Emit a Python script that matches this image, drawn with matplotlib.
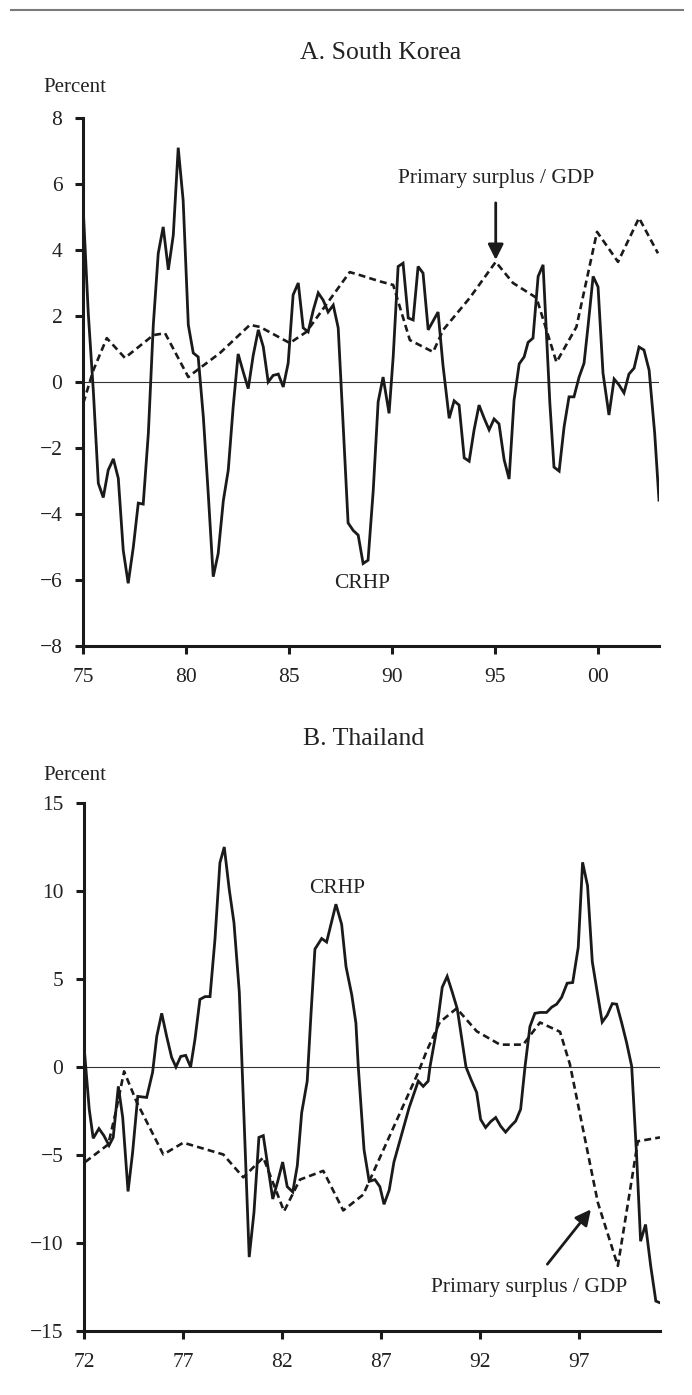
import matplotlib
matplotlib.use("Agg")
import matplotlib.pyplot as plt
from matplotlib.lines import Line2D

plt.rcParams['font.family'] = ['Liberation Serif', 'DejaVu Serif']
plt.rcParams['lines.scale_dashes'] = False

# ---------------- Panel A: South Korea ----------------
kor_crhp_year = [75.00, 75.24, 75.49, 75.73, 75.97, 76.21, 76.46, 76.70, 76.94, 77.18,
                 77.43, 77.67, 77.91, 78.16, 78.40, 78.64, 78.88, 79.13, 79.37, 79.61,
                 79.85, 80.10, 80.34, 80.58, 80.83, 81.07, 81.31, 81.55, 81.80, 82.04,
                 82.28, 82.52, 82.77, 83.01, 83.25, 83.50, 83.74, 83.98, 84.22, 84.47,
                 84.71, 84.95, 85.19, 85.44, 85.68, 85.92, 86.17, 86.41, 86.65, 86.89,
                 87.14, 87.38, 87.62, 87.86, 88.11, 88.35, 88.59, 88.83, 89.08, 89.32,
                 89.56, 89.85, 90.05, 90.29, 90.53, 90.78, 91.02, 91.26, 91.50, 91.75,
                 91.99, 92.23, 92.47, 92.77, 93.01, 93.25, 93.50, 93.74, 93.98, 94.22,
                 94.47, 94.71, 94.95, 95.19, 95.44, 95.68, 95.92, 96.17, 96.41, 96.60,
                 96.84, 97.09, 97.33, 97.66, 97.86, 98.11, 98.35, 98.59, 98.83, 99.08,
                 99.32, 99.51, 99.76, 100.00, 100.24, 100.53, 100.78, 101.02, 101.26, 101.50,
                 101.75, 101.99, 102.23, 102.48, 102.75, 102.96]
kor_crhp = [5.2, 2.1, -0.3, -3.07, -3.5, -2.67, -2.33, -2.92, -5.1, -6.1,
            -5.0, -3.67, -3.7, -1.55, 1.73, 3.9, 4.7, 3.4, 4.45, 7.1,
            5.5, 1.73, 0.88, 0.76, -1.06, -3.4, -5.9, -5.2, -3.6, -2.67,
            -0.75, 0.85, 0.3, -0.2, 0.8, 1.58, 1.07, 0.0, 0.2, 0.24,
            -0.15, 0.57, 2.64, 3.0, 1.64, 1.52, 2.18, 2.7, 2.48, 2.12,
            2.33, 1.64, -1.3, -4.27, -4.5, -4.64, -5.5, -5.4, -3.3, -0.6,
            0.15, -0.95, 0.76, 3.5, 3.6, 1.94, 1.88, 3.5, 3.3, 1.58,
            1.85, 2.12, 0.5, -1.1, -0.57, -0.7, -2.3, -2.4, -1.45, -0.7,
            -1.1, -1.45, -1.12, -1.27, -2.36, -2.94, -0.55, 0.55, 0.76, 1.2,
            1.33, 3.2, 3.55, -0.65, -2.58, -2.7, -1.36, -0.45, -0.45, 0.15,
            0.57, 1.67, 3.2, 2.88, 0.27, -1.0, 0.09, -0.09, -0.33, 0.24,
            0.42, 1.06, 0.97, 0.36, -1.55, -3.58]

kor_ps_year = [75.00, 75.49, 76.14, 77.02, 78.40, 78.97, 80.10, 80.34, 81.64, 83.09,
               83.58, 85.03, 85.84, 87.94, 88.43, 89.40, 90.05, 90.86, 91.99, 92.48,
               93.77, 95.03, 95.87, 97.01, 97.98, 98.95, 99.95, 100.97, 101.99, 102.91]
kor_ps = [-0.64, 0.36, 1.33, 0.73, 1.42, 1.48, 0.15, 0.27, 0.88, 1.73,
          1.67, 1.18, 1.52, 3.33, 3.24, 3.05, 2.94, 1.27, 0.91, 1.58,
          2.55, 3.64, 3.0, 2.55, 0.6, 1.67, 4.55, 3.64, 4.97, 3.9]

kor_xticks = [75, 80, 85, 90, 95, 100]
kor_xticklabels = ['75', '80', '85', '90', '95', '00']
kor_yticks = [-8, -6, -4, -2, 0, 2, 4, 6, 8]

# ---------------- Panel B: Thailand ----------------
tha_crhp_year = [72.00, 72.25, 72.45, 72.74, 72.99, 73.25, 73.46, 73.72, 73.94, 74.21,
                 74.44, 74.70, 75.15, 75.45, 75.66, 75.91, 76.16, 76.41, 76.63, 76.87,
                 77.12, 77.37, 77.59, 77.84, 78.10, 78.35, 78.60, 78.85, 79.07, 79.32,
                 79.56, 79.83, 80.17, 80.33, 80.57, 80.82, 81.04, 81.28, 81.52, 81.77,
                 82.02, 82.25, 82.53, 82.76, 82.98, 83.26, 83.45, 83.65, 83.99, 84.24,
                 84.71, 85.00, 85.22, 85.51, 85.72, 85.84, 86.13, 86.39, 86.68, 86.93,
                 87.14, 87.40, 87.64, 88.41, 88.87, 89.12, 89.37, 89.46, 89.80, 90.08,
                 90.33, 90.59, 90.84, 91.28, 91.53, 91.82, 92.02, 92.27, 92.53, 92.78,
                 93.03, 93.28, 93.54, 93.79, 94.04, 94.26, 94.51, 94.76, 95.02, 95.35,
                 95.61, 95.86, 96.11, 96.39, 96.67, 96.95, 97.17, 97.42, 97.66, 97.91,
                 98.16, 98.41, 98.67, 98.89, 99.14, 99.39, 99.65, 99.90, 100.10, 100.35,
                 100.61, 100.87, 101.08]
tha_crhp = [1.0, -2.41, -4.05, -3.5, -3.9, -4.46, -4.0, -1.1, -2.87, -7.07,
            -4.86, -1.67, -1.73, -0.3, 1.74, 3.05, 1.74, 0.55, 0.0, 0.6,
            0.66, 0.0, 1.57, 3.84, 4.0, 4.0, 7.25, 11.6, 12.5, 10.1,
            8.2, 4.25, -6.0, -10.8, -8.27, -4.0, -3.9, -5.7, -7.5, -6.5,
            -5.4, -6.8, -7.1, -5.6, -2.6, -0.8, 3.0, 6.7, 7.3, 7.1,
            9.25, 8.1, 5.7, 4.1, 2.5, 0.0, -4.7, -6.5, -6.4, -6.8,
            -7.8, -7.0, -5.4, -2.3, -0.8, -1.1, -0.8, 0.0, 2.14, 4.53,
            5.15, 4.24, 3.3, 0.0, -0.7, -1.45, -2.98, -3.44, -3.1, -2.87,
            -3.36, -3.7, -3.36, -3.07, -2.4, 0.0, 2.3, 3.05, 3.1, 3.1,
            3.4, 3.57, 3.96, 4.76, 4.8, 6.8, 11.63, 10.3, 5.98, 4.25,
            2.55, 2.94, 3.6, 3.57, 2.53, 1.4, 0.04, -5.07, -9.9, -8.95,
            -11.3, -13.3, -13.4]

tha_ps_year = [72.04, 73.21, 73.60, 74.01, 74.65, 75.99, 77.00, 79.02, 80.03, 81.04,
               82.09, 82.89, 84.07, 85.08, 86.09, 88.87, 89.29, 89.96, 90.81, 91.82,
               93.00, 94.17, 95.02, 96.03, 96.53, 97.94, 98.95, 99.71, 99.96, 101.08]
tha_ps = [-5.4, -4.4, -2.5, -0.25, -2.0, -4.97, -4.3, -4.97, -6.27, -5.14,
          -8.2, -6.4, -5.9, -8.15, -7.25, -0.3, 0.9, 2.55, 3.33, 2.03,
          1.27, 1.27, 2.53, 2.0, 0.15, -7.7, -11.3, -6.0, -4.22, -4.0]

tha_xticks = [72, 77, 82, 87, 92, 97]
tha_xticklabels = ['72', '77', '82', '87', '92', '97']
tha_yticks = [-15, -10, -5, 0, 5, 10, 15]

W, H = 692, 1395
fig = plt.figure(figsize=(W / 100, H / 100), dpi=100)

def style_axes(ax, xlim, ylim, xticks, xticklabels, yticks):
    ax.set_xlim(*xlim)
    ax.set_ylim(*ylim)
    for s in ['top', 'right']:
        ax.spines[s].set_visible(False)
    for s in ['left', 'bottom']:
        ax.spines[s].set_linewidth(2.2)
        ax.spines[s].set_color('#1a1a1a')
        ax.spines[s].set_capstyle('projecting')
    ax.set_xticks(xticks)
    ax.set_xticklabels(xticklabels)
    ax.set_yticks(yticks)
    ax.set_yticklabels(['\u2212' + str(abs(v)) if v < 0 else str(v) for v in yticks])
    ax.tick_params(axis='both', direction='out', length=6, width=2.2,
                   color='#1a1a1a', labelsize=15.5, labelcolor='#222222')
    ax.tick_params(axis='y', pad=9)
    ax.tick_params(axis='x', pad=10)
    ax.axhline(0, color='#333333', lw=0.8, zorder=1)
    ax.patch.set_visible(False)

# Panel A
axA = fig.add_axes([83.3 / W, 1 - 646 / H, (659 - 83.3) / W, (646 - 118) / H])
style_axes(axA, (75, 102.96), (-8, 8), kor_xticks, kor_xticklabels, kor_yticks)
axA.plot(kor_crhp_year, kor_crhp, color='#1a1a1a', lw=2.0, solid_joinstyle='miter', zorder=3)
axA.plot(kor_ps_year, kor_ps, color='#1a1a1a', lw=1.9, dashes=(5, 3), zorder=2)
axA.annotate('Primary surplus / GDP', xy=(95.03, 3.7), xytext=(95.03, 6.18),
             ha='center', va='center', fontsize=15.5, color='#222222',
             arrowprops=dict(arrowstyle='-|>,head_length=0.6,head_width=0.3',
                             color='#1a1a1a', lw=2.0, shrinkA=9, shrinkB=0))
axA.text(88.53, -6.12, 'CRHP', ha='center', va='center', fontsize=15.5, color='#222222')

# Panel B
axB = fig.add_axes([84.3 / W, 1 - 1331 / H, (660 - 84.3) / W, (1331 - 803) / H])
style_axes(axB, (72, 101.08), (-15, 15), tha_xticks, tha_xticklabels, tha_yticks)
axB.plot(tha_crhp_year, tha_crhp, color='#1a1a1a', lw=2.0, solid_joinstyle='miter', zorder=3)
axB.plot(tha_ps_year, tha_ps, color='#1a1a1a', lw=1.9, dashes=(5, 3), zorder=2)
axB.annotate('Primary surplus / GDP', xy=(97.59, -8.09), xytext=(94.46, -12.52),
             ha='center', va='center', fontsize=15.5, color='#222222',
             arrowprops=dict(arrowstyle='-|>,head_length=0.6,head_width=0.3',
                             color='#1a1a1a', lw=2.0, shrinkA=10, shrinkB=0))
axB.text(84.75, 10.15, 'CRHP', ha='center', va='center', fontsize=15.5, color='#222222')

# Header rule, titles and unit labels
fig.add_artist(Line2D([11 / W, 683 / W], [1 - 10 / H, 1 - 10 / H], color='#7a7a7a', lw=1.5))
fig.text(381 / W, 1 - 53 / H, 'A. South Korea', ha='center', va='center', fontsize=18.5, color='#222222')
fig.text(364 / W, 1 - 739 / H, 'B. Thailand', ha='center', va='center', fontsize=18.5, color='#222222')
fig.text(43 / W, 1 - 88 / H, 'Percent', ha='left', va='center', fontsize=15, color='#222222')
fig.text(43 / W, 1 - 776 / H, 'Percent', ha='left', va='center', fontsize=15, color='#222222')

fig.savefig('out.png', dpi=100)
